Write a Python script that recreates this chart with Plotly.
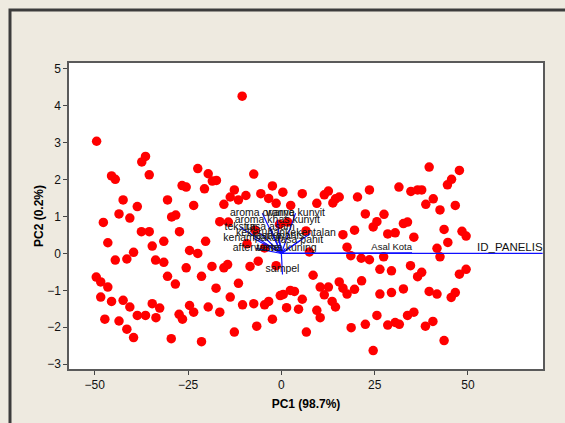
import plotly.graph_objects as go

# ---- score points (PC1, PC2) ----
pc1 = [-49.5, -36.4, -37.4, -45.5, -44.5, -35.4, -22.4, -19.6, -18.5, -17.4, -26.6, -25.5, -20.6,
       -42.4, -30.5, -38.6, -23.5, -15.4, -43.5, -40.6, -29.4, -28.3, -47.7, -16.5,
       -10.5, -7.4, -12.6, -13.7, -11.5, -9.5, -5.5, -2.4, -3.4, 0.4, -1.4, 2.5, 5.6, 9.5, 11.5,
       12.6, 13.8, 14.5, 15.5, 20.4, 23.6, 22.5, 25.6,
       39.6, 47.7, 45.6, 44.5, 31.5, 34.7, 36.5, 37.6, 40.7, 38.7, 42.5, 46.6, 27.5,
       -46.5, -37.5, -35.4, -31.5, -27.3, -34.6, -20.3, -44.5, -41.4, -39.6, -33.7, -31.5, -24.6,
       -22.4, -25.5, -18.6, -15.4, -49.6, -48.4, -46.5, -30.5, -28.4, -21.4, -17.5, -48.4, -45.5,
       -42.4, -40.6, -34.6, -32.6, -38.6, -36.4, -33.6, -24.6, -23.5, -19.6, -16.5, -27.4, -26.5,
       -47.3, -43.5, -41.4, -39.6, -29.5, -21.4,
       -14.4, -8.4, -6.2, -1.4, -11.5, -13.7, -10.4, -7.4, -4.5, -3.4, -0.3, 0.5, 2.4, 3.5, 5.6,
       1.4, 4.6, 8.5, 10.4, 12.6, 11.5, 15.5, 16.5, 17.6, 19.6, 21.5, 13.6, 14.5, 9.5, 10.4, -2.4,
       -6.6, -12.6, 6.7, 25.6, 22.5, 18.7, 24.6, 26.4, 26.4, 18.6, 21.4, 23.6, 17.6, 19.6, 16.5,
       24.6, 7.5, -9.2,
       -0.5, 1.7, 6.6, -7.0, -4.5, -14.2,
       32.7, 33.8, 28.5, 30.5, 35.5, 43.6, 48.4, 49.5, 44.6, 41.7, 42.5, 27.4, 29.5, 34.6, 36.5,
       37.6, 47.7, 49.5, 29.5, 32.7, 39.6, 41.7, 45.5, 46.6, 28.5, 30.5, 31.6, 33.8, 35.5, 38.6,
       40.6, 43.6]
pc2 = [3.04, 2.63, 2.48, 2.10, 2.01, 2.13, 2.30, 2.16, 1.96, 1.98, 1.84, 1.80, 1.75,
       1.45, 1.45, 1.27, 1.30, 1.33, 1.07, 0.96, 0.99, 1.04, 0.84, 0.86,
       4.26, 2.15, 1.72, 1.53, 1.45, 1.57, 1.62, 1.83, 1.49, 1.66, 1.36, 1.30, 1.62, 1.36, 1.59,
       1.69, 1.37, 1.48, 1.53, 1.53, 1.72, 1.07, 0.86,
       2.34, 2.25, 2.01, 1.86, 1.80, 1.68, 1.72, 1.72, 1.48, 1.33, 1.18, 1.30, 1.06,
       0.29, 0.59, 0.59, 0.33, 0.59, 0.20, 0.33, -0.18, -0.15, 0.03, -0.18, -0.24, 0.08,
       0.0, -0.39, -0.35, -0.39, -0.64, -0.77, -0.91, -0.62, -0.83, -0.62, -0.94, -1.18, -1.30,
       -1.27, -1.45, -1.36, -1.48, -1.68, -1.68, -1.74, -1.41, -1.59, -1.45, -1.59, -1.65, -1.78,
       -1.78, -1.83, -2.05, -2.28, -2.31, -2.39,
       -0.30, -0.35, -0.21, -0.33, -0.81, -1.18, -1.39, -1.36, -1.39, -1.30, -1.14, -1.11, -1.00, -1.03, -1.24,
       -1.47, -1.51, -0.59, -0.91, -0.91, -1.12, -0.77, -0.94, -1.10, -0.97, -0.74, -1.30, -1.45, -1.54, -1.74, -1.78,
       -1.97, -2.13, -2.13, -1.68, -1.92, -2.01, -2.63, -1.10, -0.43, -0.06, -0.13, -0.17, 0.17, 0.63, 0.51,
       0.72, 0.04, 0.26,
       0.79, 0.85, 0.61, 0.63, 0.15, 0.85,
       0.81, 0.85, 0.53, 0.56, 0.44, 0.65, 0.60, 0.47, 0.30, 0.14, -0.09, -0.09, -0.47, -0.33, -0.63,
       -0.51, -0.56, -0.43, -1.06, -0.96, -1.03, -1.10, -1.19, -1.06, -1.94, -1.87, -1.92, -1.68, -1.59, -1.97,
       -1.84, -2.36]

# ---- loading vectors (scaled) ----
load_names = ["ID_PANELIS", "Asal Kota", "sampel",
              "aroma oranye", "warna kunyit", "aroma khas kunyit", "tekstur", "rasa asam",
              "kekentalan", "kekeruhan", "kenampakan", "rasa pahit", "rasa manis",
              "after taste", "warna kuning"]
load_x = [70.0, 35.0, 0.3,
          -5.1, 3.8, -1.1, -11.0, -3.0, 7.8, -5.6, -7.5, 5.0, -0.8, -6.8, 1.1]
load_y = [0.0, 0.02, -0.57,
          1.09, 1.09, 0.90, 0.71, 0.71, 0.54, 0.54, 0.41, 0.35, 0.46, 0.14, 0.14]
load_pos = ["top left", "top left", "top center"] + ["middle center"] * 12
load_size = [11.5, 9.5, 10.5] + [10.5] * 12

x_ticks = [-50, -25, 0, 25, 50]
y_ticks = [-3, -2, -1, 0, 1, 2, 3, 4, 5]

FONT = "Liberation Sans"
fig = go.Figure()

fig.add_trace(go.Scatter(x=pc1, y=pc2, mode="markers",
                         marker=dict(color="#FF0000", size=9.5, line=dict(width=0)),
                         showlegend=False, hoverinfo="skip"))

for lx, ly in zip(load_x, load_y):
    fig.add_trace(go.Scatter(x=[0, lx], y=[0, ly], mode="lines",
                             line=dict(color="#1010FF", width=1.2),
                             showlegend=False, hoverinfo="skip"))

fig.add_trace(go.Scatter(x=load_x, y=load_y, mode="text", text=load_names,
                         textposition=load_pos,
                         textfont=dict(family=FONT, size=load_size, color="#111111"),
                         cliponaxis=False, showlegend=False, hoverinfo="skip"))

axis_common = dict(showgrid=False, zeroline=False, showline=True, mirror=True,
                   linecolor="#5a5a5a", linewidth=1.5, ticks="outside", ticklen=4,
                   tickcolor="#444", tickfont=dict(family=FONT, size=12, color="#111"))

fig.update_xaxes(range=[-56.9, 70.1], tickvals=x_ticks,
                 title=dict(text="PC1 (98.7%)", standoff=8,
                            font=dict(family=FONT, size=12, color="#000", weight="bold")),
                 **axis_common)
fig.update_yaxes(range=[-3.13, 5.16], tickvals=y_ticks,
                 title=dict(text="PC2 (0.2%)", standoff=1,
                            font=dict(family=FONT, size=12, color="#000", weight="bold")),
                 **axis_common)

W, H = 565, 423
ml, mr, mt, mb = 69, 22, 63, 54
pw, ph = W - ml - mr, H - mt - mb
bx = (10 - ml) / pw
by = 1 + (mt - 10) / ph

fig.update_layout(
    width=W, height=H,
    margin=dict(l=ml, r=mr, t=mt, b=mb),
    paper_bgcolor="#EEEAE0", plot_bgcolor="#FFFFFF",
    shapes=[dict(type="rect", xref="paper", yref="paper", x0=bx, x1=1.3, y0=-0.5, y1=by,
                 line=dict(color="#3c3c3c", width=3), fillcolor="rgba(0,0,0,0)", layer="below")],
)

fig.write_html("out.html")
